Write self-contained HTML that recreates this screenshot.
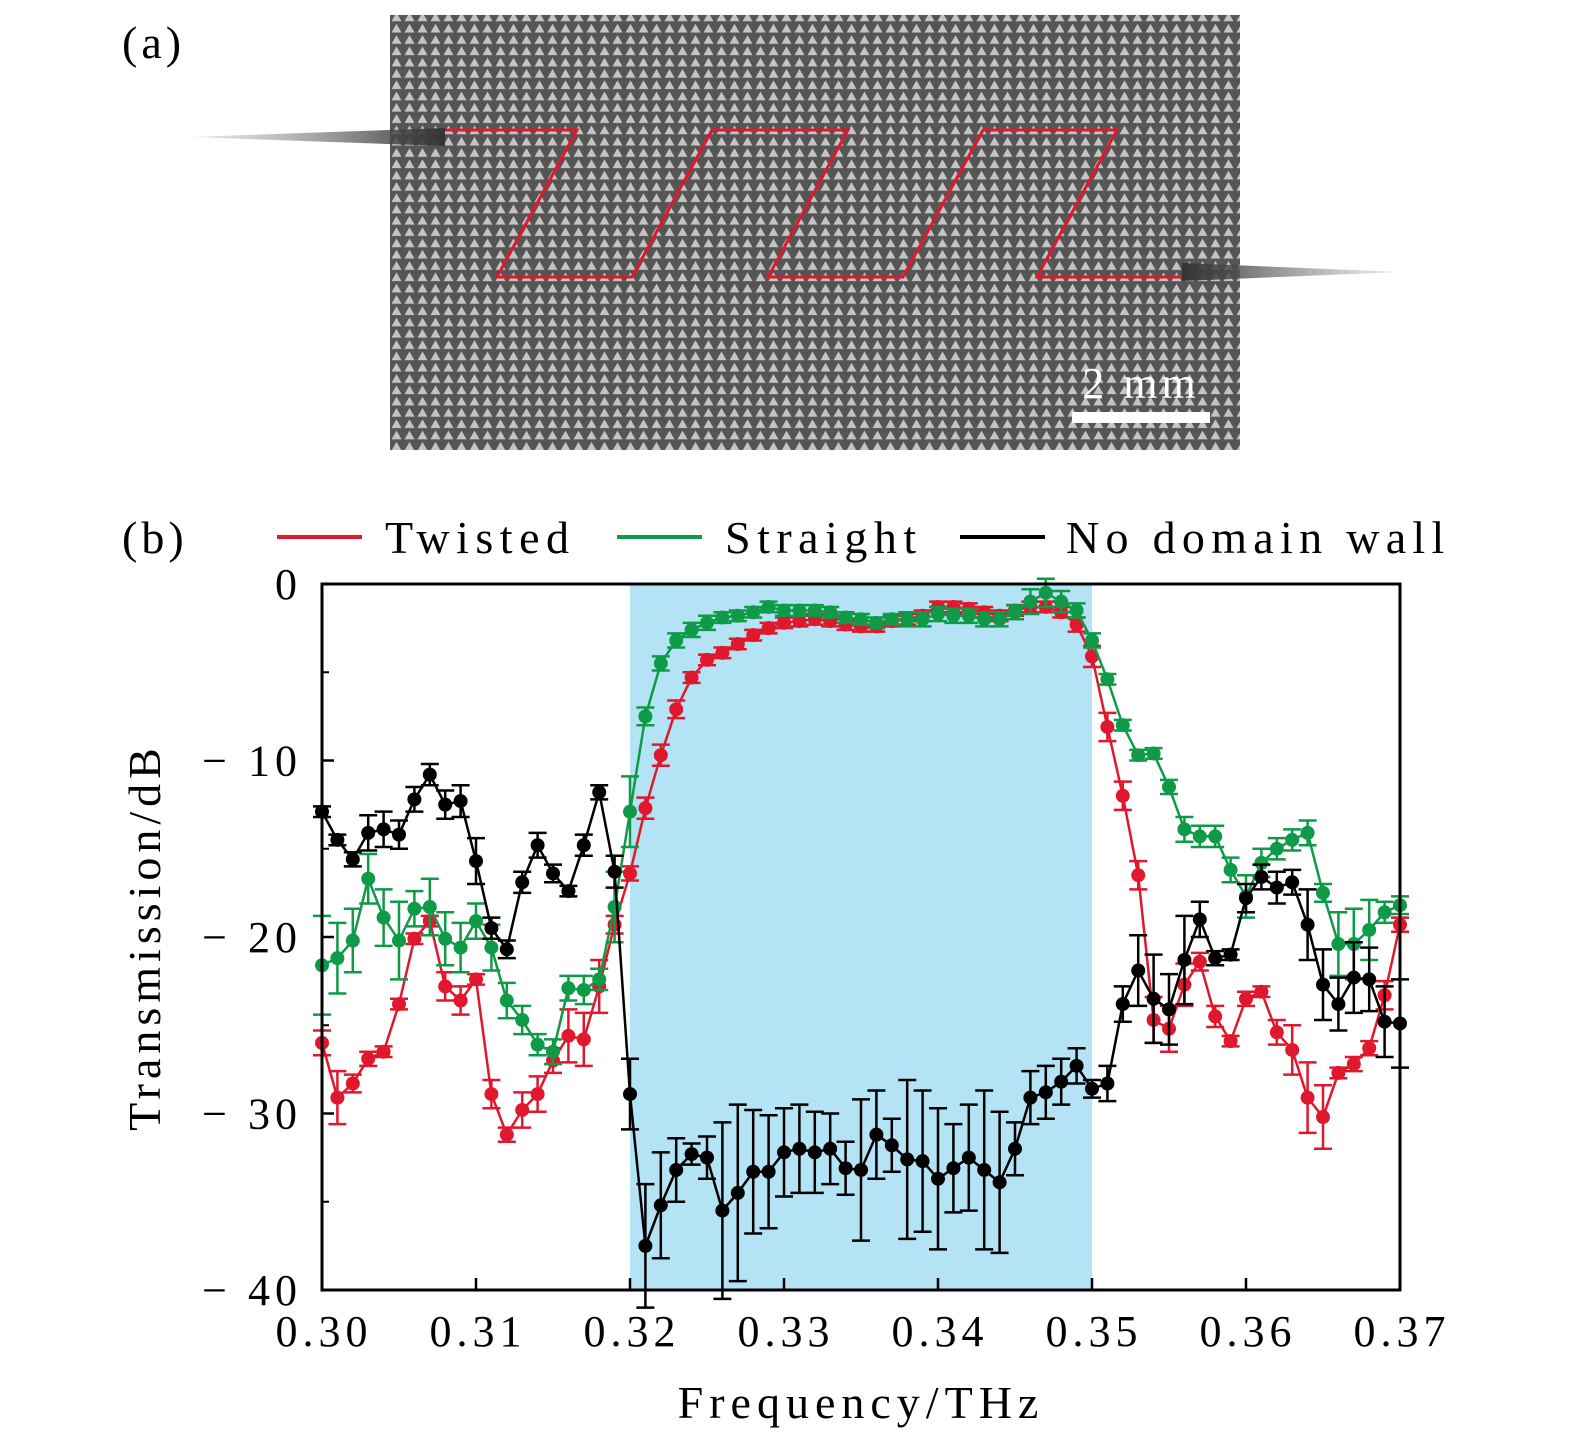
<!DOCTYPE html>
<html><head><meta charset="utf-8">
<style>
html,body{margin:0;padding:0;background:#fff;}
body{width:1575px;height:1447px;position:relative;overflow:hidden;font-family:"Liberation Serif",serif;}
svg{position:absolute;left:0;top:0;}
</style></head>
<body>
<svg width="1575" height="1447" viewBox="0 0 1575 1447">
<defs>
<pattern id="lat" width="13" height="11.3" patternUnits="userSpaceOnUse">
<rect width="13" height="11.3" fill="#555"/>
<polygon points="6.5,1.2 11.5,10 1.5,10" fill="#c4c4c4"/>
</pattern>
<linearGradient id="probe1" x1="0" x2="1"><stop offset="0" stop-color="#999" stop-opacity="0.2"/><stop offset="1" stop-color="#333"/></linearGradient>
<linearGradient id="probe2" x1="1" x2="0"><stop offset="0" stop-color="#999" stop-opacity="0.2"/><stop offset="1" stop-color="#333"/></linearGradient>
</defs>
<text x="122" y="58" font-size="46" letter-spacing="4">(a)</text>
<g>
<rect x="390" y="15" width="850" height="435" fill="url(#lat)"/>
<polygon points="190,137 445,128 445,146" fill="url(#probe1)"/>
<polygon points="1400,272 1182,263 1182,281" fill="url(#probe2)"/>
<polyline points="445,130 577,130 497,277 632,277 712,130 848,130 768,277 903,277 983,130 1117,130 1037,277 1182,277" fill="none" stroke="#e0182d" stroke-width="3"/>
<rect x="1072" y="412" width="138" height="11" fill="#fff"/>
<text x="1141" y="398" font-size="44" letter-spacing="4" fill="#fff" text-anchor="middle">2 mm</text>
</g>
<text x="122" y="553" font-size="46" letter-spacing="4">(b)</text>
<g>
<line x1="277" y1="537" x2="362" y2="537" stroke="#e0182d" stroke-width="4"/>
<text x="385" y="553" font-size="46" letter-spacing="6.5">Twisted</text>
<line x1="617" y1="537" x2="702" y2="537" stroke="#0f9a48" stroke-width="4"/>
<text x="725" y="553" font-size="46" letter-spacing="6.5">Straight</text>
<line x1="960" y1="537" x2="1045" y2="537" stroke="#000" stroke-width="4"/>
<text x="1066" y="553" font-size="46" letter-spacing="6.3">No domain wall</text>
</g>
<g id="chart"></g>
</svg>
<script>
const freqStart = 0.300, freqStep = 0.001;
const xTicks = [0.30,0.31,0.32,0.33,0.34,0.35,0.36,0.37];
const xTickLabels = ["0.30","0.31","0.32","0.33","0.34","0.35","0.36","0.37"];
const yTicks = [0,-10,-20,-30,-40];
const yTickLabels = ["0","\u2212 10","\u2212 20","\u2212 30","\u2212 40"];
const bandRange = [0.320, 0.350];
const black = [-12.9,-14.5,-15.6,-14.1,-13.9,-14.2,-12.2,-10.8,-12.5,-12.3,-15.7,-19.5,-20.7,-16.9,-14.8,-16.4,-17.4,-14.8,-11.8,-16.3,-28.9,-37.5,-35.2,-33.2,-32.3,-32.5,-35.5,-34.5,-33.3,-33.3,-32.2,-32.0,-32.2,-32.0,-33.1,-33.2,-31.2,-31.8,-32.6,-32.7,-33.7,-33.1,-32.5,-33.2,-33.9,-32.0,-29.1,-28.8,-28.2,-27.3,-28.6,-28.3,-23.8,-21.9,-23.5,-24.1,-21.3,-19.0,-21.2,-21.0,-17.8,-16.6,-17.2,-16.9,-19.3,-22.7,-23.8,-22.3,-22.4,-24.8,-24.9];
const blackErr = [0.3,0.3,0.4,1.0,1.0,0.8,0.7,0.6,0.8,0.9,1.3,0.6,0.5,0.6,0.7,0.5,0.3,0.6,0.4,0.9,2.0,3.5,3.0,1.8,0.6,1.2,5.0,5.0,3.5,3.2,2.5,2.5,2.3,2.0,1.5,4.0,2.5,1.5,4.5,4.0,4.0,2.5,3.0,4.5,4.0,1.5,1.5,1.5,1.3,1.0,0.5,1.0,1.0,2.0,2.5,2.0,2.5,1.0,0.4,0.3,0.8,0.7,0.9,0.7,2.0,2.0,1.5,2.0,1.8,2.0,2.5];
const green = [-21.6,-21.2,-20.2,-16.7,-18.9,-20.2,-18.4,-18.3,-20.1,-20.6,-19.1,-20.6,-23.6,-24.7,-26.1,-26.5,-22.9,-23.0,-22.4,-18.3,-12.9,-7.5,-4.5,-3.2,-2.6,-2.2,-1.9,-1.8,-1.6,-1.3,-1.5,-1.5,-1.5,-1.6,-1.9,-2.0,-2.2,-2.0,-2.0,-2.0,-1.7,-1.8,-1.8,-2.0,-2.0,-1.6,-1.0,-0.5,-1.0,-1.5,-3.2,-5.4,-8.0,-9.7,-9.6,-11.5,-13.9,-14.3,-14.3,-16.2,-17.7,-15.8,-15.0,-14.5,-14.1,-17.5,-20.4,-20.4,-19.6,-18.6,-18.2];
const greenErr = [2.8,2.0,1.8,1.4,1.6,2.2,1.0,1.6,1.5,1.4,1.0,1.3,1.0,0.8,0.6,0.7,0.7,0.8,0.6,2.0,2.0,0.5,0.4,0.4,0.4,0.4,0.3,0.3,0.3,0.3,0.3,0.3,0.3,0.3,0.3,0.3,0.3,0.3,0.4,0.4,0.4,0.4,0.4,0.4,0.4,0.4,0.7,0.8,0.6,0.4,0.4,0.3,0.3,0.3,0.3,0.4,0.7,0.6,0.6,0.7,1.2,0.8,0.6,0.6,0.7,0.5,1.8,2.0,1.7,0.6,0.5];
const red = [-26.0,-29.1,-28.3,-26.9,-26.5,-23.8,-20.1,-19.1,-22.8,-23.6,-22.4,-28.9,-31.2,-29.8,-28.9,-27.0,-25.6,-25.8,-22.8,-19.3,-16.4,-12.7,-9.7,-7.1,-5.3,-4.3,-3.9,-3.4,-2.9,-2.5,-2.2,-2.1,-2.0,-2.1,-2.3,-2.4,-2.4,-2.1,-2.0,-1.8,-1.3,-1.3,-1.4,-1.6,-1.8,-1.5,-1.3,-1.3,-1.6,-2.3,-4.1,-8.1,-12.0,-16.5,-24.7,-25.2,-22.7,-21.4,-24.5,-25.9,-23.5,-23.1,-25.4,-26.4,-29.1,-30.2,-27.7,-27.2,-26.3,-23.3,-19.3];
const redErr = [0.7,1.5,0.5,0.4,0.3,0.3,0.3,0.3,0.8,0.8,0.3,0.8,0.4,1.0,1.0,0.7,1.5,1.5,1.5,0.5,0.4,0.6,0.6,0.5,0.3,0.3,0.3,0.3,0.3,0.3,0.3,0.3,0.3,0.3,0.3,0.3,0.3,0.3,0.3,0.3,0.3,0.3,0.3,0.3,0.3,0.3,0.3,0.3,0.3,0.4,0.6,0.8,0.8,0.8,1.3,1.3,1.2,0.5,0.6,0.3,0.4,0.3,0.7,1.4,2.0,1.8,0.3,0.4,0.4,0.8,0.4];

const NS='http://www.w3.org/2000/svg';
const L=322,R=1400,T=584,B=1290;
const xS=f=>L+(f-0.30)/(0.07)*(R-L);
const yS=v=>T+(0-v)/40*(B-T);
const g=document.getElementById('chart');
function mk(tag,attrs,parent){const e=document.createElementNS(NS,tag);for(const k in attrs)e.setAttribute(k,attrs[k]);(parent||g).appendChild(e);return e;}

const band=mk('rect',{x:xS(bandRange[0]),y:T,width:xS(bandRange[1])-xS(bandRange[0]),height:B-T,fill:'#b3e3f4'});



function series(vals,errs,color,name){
  const grp=mk('g',{});
  
  
  const pts=vals.map((v,i)=>[xS(freqStart+i*freqStep),yS(v)]);
  vals.forEach((v,i)=>{
    const x=pts[i][0],y1=yS(v+errs[i]),y2=yS(v-errs[i]);
    const e=mk('path',{d:`M${x},${y1}V${y2}M${x-9},${y1}h18M${x-9},${y2}h18`,stroke:color,'stroke-width':2.5,fill:'none'},grp);
    
    
  });
  const ln=mk('polyline',{points:pts.map(p=>p.join(',')).join(' '),fill:'none',stroke:color,'stroke-width':2.5},grp);
  
  
  pts.forEach(p=>{
    const c=mk('circle',{cx:p[0],cy:p[1],r:7,fill:color},grp);
    
    
  });
}
series(red,redErr,'#e0182d','twisted');
series(green,greenErr,'#0f9a48','straight');
series(black,blackErr,'#000','no-domain-wall');

const frame=mk('rect',{x:L,y:T,width:R-L,height:B-T,fill:'none',stroke:'#000','stroke-width':3});



xTicks.forEach((t,i)=>{
  const x=xS(t);
  const tk=mk('line',{x1:x,y1:B,x2:x,y2:B-12,stroke:'#000','stroke-width':2.5});
  
  
  const tx=mk('text',{x:x+2,y:B+56,'font-size':44,'letter-spacing':5,'text-anchor':'middle'});
  tx.textContent=xTickLabels[i];
  
  
});
yTicks.forEach((t,i)=>{
  const y=yS(t);
  const tk=mk('line',{x1:L,y1:y,x2:L+12,y2:y,stroke:'#000','stroke-width':2.5});
  
  
  const tx=mk('text',{x:302,y:y+15,'font-size':44,'letter-spacing':5,'text-anchor':'end'});
  tx.textContent=yTickLabels[i];
  
  
});
[-5,-15,-25,-35].forEach(t=>{
  const y=yS(t);
  const tk=mk('line',{x1:L,y1:y,x2:L+7,y2:y,stroke:'#000','stroke-width':2});
  
  
});
const xl=mk('text',{x:861,y:1418,'font-size':46,'text-anchor':'middle','letter-spacing':6});
xl.textContent='Frequency/THz';


const yl=mk('text',{x:0,y:0,'font-size':46,'text-anchor':'middle','letter-spacing':5,transform:'translate(160,937) rotate(-90)'});
yl.textContent='Transmission/dB';


</script>
</body></html>
